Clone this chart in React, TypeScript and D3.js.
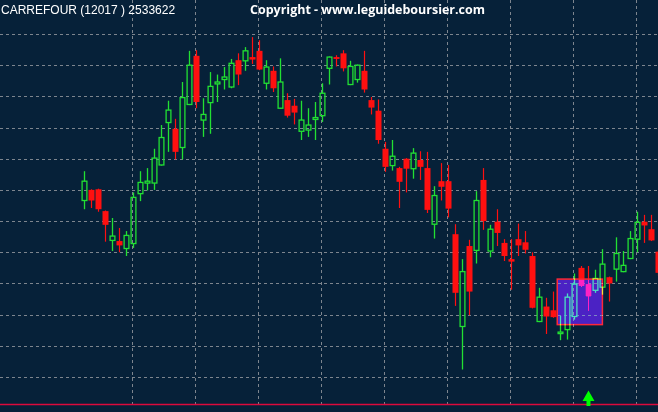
import React from "react";
import * as d3 from "d3";

const W = 658;
const H = 412;

const titleLeft = "CARREFOUR (12017 ) 2533622";
const titleCenter = "Copyright - www.leguideboursier.com";

const opens = [17.83, 18.0, 18.01, 17.66, 17.19, 17.18, 17.06, 17.14, 17.94, 18.11, 18.11, 18.4, 19.08, 18.98, 18.68, 19.37, 20.15, 19.12, 19.4, 19.7, 19.77, 19.65, 20.08, 20.07, 20.13, 20.23, 19.71, 19.91, 19.31, 19.44, 19.35, 18.94, 18.96, 19.13, 19.19, 19.95, 20.13, 20.19, 19.69, 19.77, 19.91, 19.44, 19.27, 18.66, 18.39, 18.35, 18.5, 18.34, 18.48, 18.35, 17.45, 18.14, 18.14, 17.29, 15.81, 17.1, 17.03, 18.16, 17.02, 17.49, 17.15, 16.89, 17.21, 17.16, 16.94, 15.89, 16.13, 16.07, 15.71, 15.76, 15.97, 16.75, 16.49, 16.39, 16.44, 16.6, 16.73, 16.69, 16.9, 17.21, 17.49, 17.37, 17.01];
const highs = [18.3, 18.01, 18.02, 17.67, 17.55, 17.39, 17.34, 17.96, 18.3, 18.35, 18.66, 19.04, 19.43, 19.14, 19.73, 20.23, 20.24, 19.47, 19.89, 19.85, 19.97, 20.1, 20.19, 20.29, 20.45, 20.4, 20.08, 19.98, 20.11, 19.55, 19.46, 19.43, 19.31, 19.41, 19.71, 20.14, 20.16, 20.24, 20.07, 20.01, 20.23, 19.49, 19.45, 18.77, 18.8, 18.37, 18.51, 18.67, 18.62, 18.61, 18.06, 18.43, 18.4, 17.45, 16.89, 17.2, 17.98, 18.35, 17.44, 17.69, 17.21, 17.21, 17.46, 17.34, 17.0, 16.43, 16.27, 16.37, 15.98, 16.34, 16.66, 16.78, 16.78, 16.72, 17.05, 16.61, 17.24, 17.02, 17.34, 17.65, 17.6, 17.6, 17.05];
const lows = [17.69, 17.71, 17.65, 17.17, 17.02, 17.0, 16.94, 17.07, 17.82, 17.99, 18.0, 18.39, 18.61, 18.49, 18.49, 19.36, 19.31, 18.85, 18.9, 19.41, 19.61, 19.63, 19.68, 19.91, 20.02, 19.92, 19.61, 19.57, 19.3, 19.16, 19.05, 18.8, 18.85, 18.8, 19.09, 19.69, 19.98, 19.9, 19.68, 19.72, 19.56, 19.21, 18.74, 18.29, 18.31, 17.71, 17.96, 18.18, 18.16, 17.63, 17.22, 17.83, 17.56, 16.14, 15.12, 15.99, 16.82, 17.36, 16.92, 17.1, 16.86, 16.4, 16.94, 16.98, 16.1, 15.88, 15.69, 15.95, 15.59, 15.6, 15.92, 16.44, 16.06, 16.35, 16.32, 16.21, 16.53, 16.68, 16.89, 17.0, 17.15, 17.18, 16.62];
const closes = [18.14, 17.83, 17.69, 17.44, 17.26, 17.11, 17.27, 17.88, 18.12, 18.14, 18.51, 18.84, 19.28, 18.61, 19.48, 20.0, 19.41, 19.21, 19.66, 19.73, 19.81, 20.03, 19.85, 20.23, 20.09, 19.93, 19.97, 19.63, 19.73, 19.19, 19.24, 19.12, 19.04, 19.16, 19.55, 20.13, 20.1, 19.95, 19.98, 20.0, 19.61, 19.32, 18.8, 18.37, 18.54, 18.13, 18.34, 18.59, 18.37, 17.68, 17.91, 18.05, 17.7, 16.35, 16.69, 16.37, 17.83, 17.5, 17.37, 17.31, 16.94, 16.85, 17.11, 17.04, 16.11, 16.28, 15.97, 15.96, 15.72, 16.28, 16.49, 16.46, 16.29, 16.58, 16.81, 16.5, 16.98, 16.79, 17.22, 17.48, 17.43, 17.19, 16.67];

// highlighted zone: [start index, end index], [top price, bottom price]
const zoneIndex = [67.55, 74];
const zonePrice = [16.57, 15.84];
// buy signal candle index
const signalIndex = [72];

const gridPrices = d3.range(15, 20.51, 0.5);
const gridIndices = d3.range(7, 83, 9);

const BG = "#062139";
const GREEN = "#22e033";
const RED = "#ff1010";

export default function App() {
  const x = d3.scaleLinear().domain([0, 82]).range([84.4, 84.4 + 7 * 82]);
  const y = d3.scaleLinear().domain([15, 20.5]).range([377, 34]);

  const candles = opens.map((o, i) => ({ i, o, h: highs[i], l: lows[i], c: closes[i] }));

  return (
    <svg
      width={W}
      height={H}
      style={{ position: "fixed", left: 0, top: 0, display: "block" }}
      xmlns="http://www.w3.org/2000/svg"
    >
      <rect x={0} y={0} width={W} height={H} fill={BG} />
      <g stroke="#7d858e" strokeWidth={1} strokeDasharray="3,3" shapeRendering="crispEdges">
        {gridPrices.map((p) => (
          <line key={"h" + p} x1={0} x2={W} y1={Math.round(y(p)) + 0.5} y2={Math.round(y(p)) + 0.5} />
        ))}
        {gridIndices.map((k) => (
          <line key={"v" + k} x1={Math.round(x(k)) - 0.5} x2={Math.round(x(k)) - 0.5} y1={0} y2={404} />
        ))}
      </g>
      <g>
        {candles.map((d) => {
          const ci = Math.round(x(d.i));
          const cx = ci + 0.5;
          const up = d.c >= d.o;
          const top = y(Math.max(d.o, d.c));
          const bot = y(Math.min(d.o, d.c));
          const bh = Math.max(1.5, bot - top);
          if (up) {
            return (
              <g key={d.i} stroke={GREEN} fill="none" strokeWidth={1.3}>
                <line x1={cx} x2={cx} y1={y(d.h)} y2={top} />
                <line x1={cx} x2={cx} y1={top + bh} y2={y(d.l)} />
                <rect x={cx - 2.4} y={top} width={4.8} height={bh} />
              </g>
            );
          }
          return (
            <g key={d.i}>
              <line x1={cx} x2={cx} y1={y(d.h)} y2={y(d.l)} stroke={RED} strokeWidth={1.2} />
              <rect x={cx - 3} y={top} width={6} height={bh} fill={RED} />
            </g>
          );
        })}
      </g>
      <g style={{ mixBlendMode: "lighten" }}>
        <rect
          x={x(zoneIndex[0])}
          y={y(zonePrice[0])}
          width={x(zoneIndex[1]) - x(zoneIndex[0])}
          height={y(zonePrice[1]) - y(zonePrice[0])}
          fill="#4b22c4"
          stroke="#ff2828"
          strokeWidth={1.5}
        />
      </g>
      <line x1={0} x2={W} y1={404.5} y2={404.5} stroke="#dc0a3c" strokeWidth={1.5} />
      {signalIndex.map((k) => {
        const cx = Math.round(x(k)) + 0.5;
        return (
          <path
            key={"s" + k}
            d={`M${cx},390.5 L${cx + 6},401 L${cx + 2},401 L${cx + 2},406 L${cx - 2},406 L${cx - 2},401 L${cx - 6},401 Z`}
            fill="#00ff00"
          />
        );
      })}
      <text x={1} y={14} fill="#ffffff" fontFamily="'Liberation Sans', Arial, sans-serif" fontSize={12}>
        {titleLeft}
      </text>
      <text
        x={250}
        y={14}
        fill="#ffffff"
        fontFamily="'Open Sans', 'Liberation Sans', sans-serif"
        fontWeight="bold"
        fontSize={12.5}
        textLength={235}
        lengthAdjust="spacingAndGlyphs"
      >
        {titleCenter}
      </text>
    </svg>
  );
}
